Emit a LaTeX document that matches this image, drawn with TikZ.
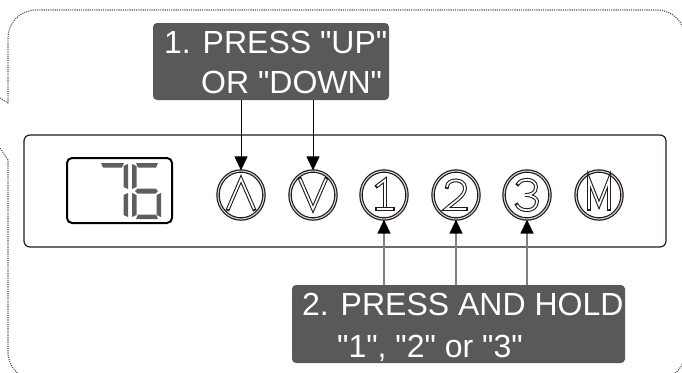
\documentclass[tikz,border=0pt]{standalone}
\usepackage{fontspec}
\setmainfont{Liberation Sans}[Ligatures=TeXOff]
\newfontfamily\labfont{Liberation Sans}[Ligatures=TeXOff]
\usetikzlibrary{shapes.geometric,arrows.meta}
\definecolor{labfill}{HTML}{595959}
\definecolor{ink}{HTML}{241A1A}
\definecolor{segcol}{HTML}{5E5E5E}
\definecolor{dotc}{HTML}{505050}
\definecolor{lowline}{HTML}{808080}
\newcommand\glyphpath[1]{\draw[glyphout] #1; \draw[glyphin] #1;}
\begin{document}
\begin{tikzpicture}[x=1pt,y=-1pt,
  labelbox/.style={fill=labfill, rounded corners=4pt, draw=none, inner sep=0pt},
  labtext/.style={text=white, font=\labfont\fontsize{32}{38}\selectfont, inner sep=0pt, anchor=base west},
  btn/.style={ellipse, draw=ink, line width=1.2pt, double=gray!35, double distance=1.1pt, minimum width=46pt, minimum height=48pt, inner sep=0pt},
  glyphout/.style={draw=ink, line width=3.8pt, line join=miter, line cap=rect},
  glyphin/.style={draw=white, line width=1.7pt, line join=miter, line cap=butt},
  segfill/.style={fill=segcol, draw=none},
  framedots/.style={draw=dotc, line width=1.1pt, dash pattern=on 1.1pt off 1.1pt},
  uparrow/.style={draw=black, line width=1pt, -{Triangle[width=13pt,length=14pt]}},
  dnarrow/.style={draw=lowline, line width=1.3pt, -{Triangle[width=13pt,length=14pt,black]}}
]
\useasboundingbox (0,0) rectangle (682,372);
\clip (0,0) rectangle (682,372);
% dotted outer frame
\draw[framedots] (0,98) -- (8,103);
\draw[framedots, rounded corners=28pt] (8,103) -- (8,10) -- (685,10) -- (685,380) -- (8,380) -- (8,160);
\draw[framedots] (8,160) -- (0,148);
% panel
\node[draw=ink, line width=1.2pt, rounded corners=6pt, minimum width=642pt, minimum height=112pt, inner sep=0pt] (panel) at (345,191) {};
% display
\node[draw=black, line width=2pt, rounded corners=5pt, minimum width=105pt, minimum height=65pt, inner sep=0pt] (disp) at (119.5,190.5) {};
% digit 7
\fill[segfill] (101,163) -- (124,163) -- (122,167.5) -- (103,167.5) -- cycle;
\fill[segfill] (123.5,166) -- (128,164) -- (128,189) -- (123.5,187) -- cycle;
\fill[segfill] (123.5,195) -- (128,193) -- (128,217) -- (123.5,215) -- cycle;
% digit 6
\fill[segfill] (136,163) -- (158,163) -- (156,167.5) -- (138,167.5) -- cycle;
\fill[segfill] (132,164) -- (136.5,166) -- (136.5,187) -- (132,189) -- cycle;
\fill[segfill] (135,191) -- (137.5,188.5) -- (155.5,188.5) -- (158,191) -- (155.5,193.5) -- (137.5,193.5) -- cycle;
\fill[segfill] (132,193) -- (136.5,195) -- (136.5,215) -- (132,217) -- cycle;
\fill[segfill] (136,219) -- (138,214.5) -- (156,214.5) -- (158,219) -- cycle;
\fill[segfill] (156.5,195) -- (161,193) -- (161,217) -- (156.5,215) -- cycle;
% buttons
\node[btn] (up) at (241,195) {};
\node[btn] (down) at (313,195) {};
\node[btn] (b1) at (384,195) {};
\node[btn] (b2) at (456,195) {};
\node[btn] (b3) at (527,195) {};
\node[btn] (bm) at (599,195) {};
% glyphs
\begin{scope}[shift={(241,195)}]
  \glyphpath{(-13,14) -- (0,-16) -- (13,14)}
\end{scope}
\begin{scope}[shift={(313,195)}]
  \glyphpath{(-13,-16) -- (0,14) -- (13,-16)}
\end{scope}
\begin{scope}[shift={(384,195)}]
  \glyphpath{(-7,-9) -- (1,-15) -- (1,14)}
  \glyphpath{(-7,14) -- (9,14)}
\end{scope}
\begin{scope}[shift={(456,195)}]
  \glyphpath{(-9,-8) .. controls (-9,-17) and (9,-17) .. (9,-7) .. controls (9,1) and (-1,6) .. (-10,14) -- (10,14)}
\end{scope}
\begin{scope}[shift={(527,195)}]
  \glyphpath{(-9,-11) .. controls (-6,-17) and (9,-17) .. (9,-8) .. controls (9,-2) and (4,0) .. (-2,0) .. controls (6,0) and (10,4) .. (10,6) .. controls (10,18) and (-7,17) .. (-10,10)}
\end{scope}
\begin{scope}[shift={(599,195)}]
  \glyphpath{(-10,14) -- (-10,-15) -- (0,10) -- (10,-15) -- (10,14)}
\end{scope}
% labels
\node[labelbox, minimum width=236pt, minimum height=77pt] (lab1) at (271,61.5) {};
\node[labtext] (t1a) at (164,53) {1. PRESS "UP"};
\node[labtext] (t1b) at (201,93) {OR "DOWN"};
\node[labelbox, minimum width=333pt, minimum height=78pt] (lab2) at (458.5,324) {};
\node[labtext] (t2a) at (302,315) {2. PRESS AND HOLD};
\node[labtext] (t2b) at (337,357) {"1", "2" or "3"};
% arrows
\draw[uparrow] (lab1.south -| up) -- (up.north);
\draw[uparrow] (lab1.south -| down) -- (down.north);
\draw[dnarrow] (lab2.north -| b1) -- (b1.south);
\draw[dnarrow] (lab2.north -| b2) -- (b2.south);
\draw[dnarrow] (lab2.north -| b3) -- (b3.south);
\end{tikzpicture}
\end{document}
